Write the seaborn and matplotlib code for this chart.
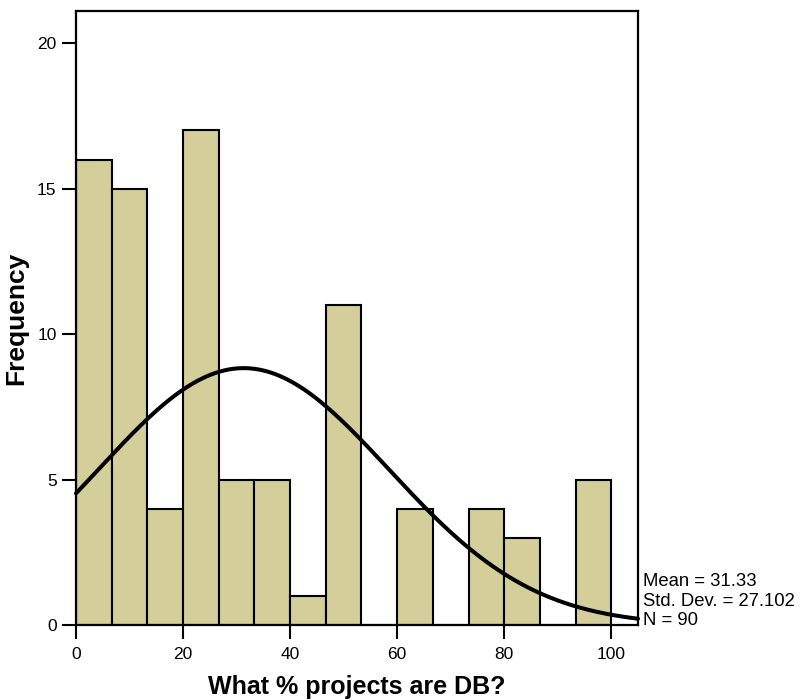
import numpy as np
import pandas as pd
import matplotlib
matplotlib.use("Agg")
import matplotlib.pyplot as plt
import seaborn as sns

# Histogram counts per 6.67-point bin, 0..100
bin_edges = [0, 6.667, 13.333, 20, 26.667, 33.333, 40, 46.667, 53.333,
             60, 66.667, 73.333, 80, 86.667, 93.333, 100]
counts = [16, 15, 4, 17, 5, 5, 1, 11, 0, 4, 0, 4, 3, 0, 5]

# Summary statistics shown beside the plot
mean_val = 31.33
sd_val = 27.102
n_obs = 90

x_ticks = [0, 20, 40, 60, 80, 100]
y_ticks = [0, 5, 10, 15, 20]

sns.set_style("white")
plt.rcParams["font.family"] = ["Liberation Sans", "DejaVu Sans"]
plt.rcParams["text.color"] = "black"
plt.rcParams["axes.labelcolor"] = "black"

edges = np.array(bin_edges)
centers = (edges[:-1] + edges[1:]) / 2
df = pd.DataFrame({"pct": centers, "count": counts})

fig = plt.figure(figsize=(8, 7), dpi=100)
ax = fig.add_axes([0.095, 0.107, 0.7025, 0.877])

sns.histplot(data=df, x="pct", weights="count", bins=list(bin_edges), ax=ax,
             color="#D3CE9A", alpha=1.0, edgecolor="black", linewidth=1.5)

# Fitted normal curve scaled to counts
width = edges[1] - edges[0]
xs = np.linspace(0, 105, 400)
ys = n_obs * width / (sd_val * np.sqrt(2 * np.pi)) * np.exp(-0.5 * ((xs - mean_val) / sd_val) ** 2)
sns.lineplot(x=xs, y=ys, ax=ax, color="black", linewidth=2.9, clip_on=False)

ax.set_xlim(0, 105)
ax.set_ylim(0, 21.1)
ax.set_xticks(x_ticks)
ax.set_yticks(y_ticks)
ax.tick_params(axis="both", direction="out", length=10, width=1.5,
               labelsize=12.5, colors="black", labelcolor="black",
               bottom=True, left=True)
ax.tick_params(axis="x", pad=6)
ax.tick_params(axis="y", pad=4)
for s in ax.spines.values():
    s.set_color("black")
    s.set_linewidth(1.6)

ax.set_xlabel("What % projects are DB?", fontsize=18, fontweight="bold", labelpad=9)
ax.set_ylabel("Frequency", fontsize=19, fontweight="bold", labelpad=6)

stats_text = f"Mean = {mean_val:.2f}\nStd. Dev. = {sd_val:.3f}\nN = {n_obs}"
ax.annotate(stats_text, xy=(1.0, 0.0), xycoords="axes fraction",
            xytext=(3.5, -3), textcoords="offset points",
            ha="left", va="bottom", fontsize=13.3, linespacing=1.2,
            annotation_clip=False)

fig.savefig("out.png", dpi=100, facecolor="white")
